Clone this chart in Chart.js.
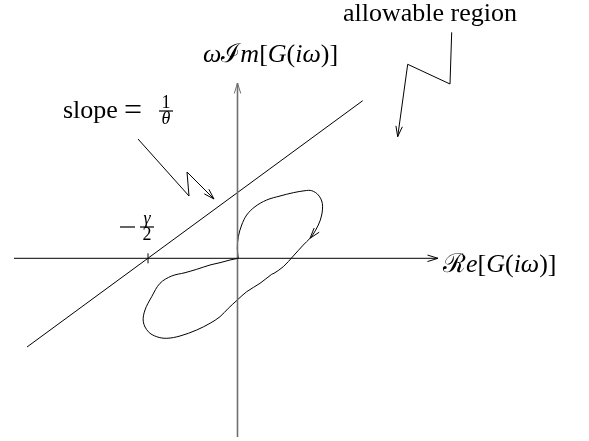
<!DOCTYPE html>
<html>
<head>
<meta charset="utf-8">
<script src="https://cdn.jsdelivr.net/npm/chart.js@4/dist/chart.umd.min.js"></script>
<style>
  html, body { margin: 0; padding: 0; background: #fff; }
  canvas { display: block; }
</style>
</head>
<body>
<canvas id="popov" width="589" height="441"></canvas>
<script>
// Popov plot: Re[G(iw)] vs w*Im[G(iw)], units are arbitrary (origin = axes crossing)
const loopRe = [0.08, -0.02, 0.08, 0.42, 0.92, 1.75, 2.92, 4.25, 5.58, 6.75, 7.42, 8.08, 8.48, 8.42, 8.08, 7.52, 7.25, 6.58, 5.58, 4.58, 3.65, 3.42, 2.25, 0.92, -0.02, -0.92, -1.75, -2.75, -4.08, -5.75, -7.08, -8.08, -8.92, -9.42, -9.25, -8.58, -7.75, -6.58, -5.25, -4.08, -2.75, -1.75, -0.75, 0.08];
const loopIm = [0, 1.0, 2.16, 3.33, 4.33, 5.16, 5.83, 6.23, 6.56, 6.76, 6.76, 6.33, 5.5, 4.33, 3.33, 2.33, 2.0, 1.33, 0.23, -0.84, -1.5, -1.6, -2.5, -3.34, -4.17, -5.0, -5.84, -6.5, -7.17, -7.77, -8.0, -7.84, -7.34, -6.34, -5.17, -3.84, -2.5, -1.77, -1.44, -1.1, -0.67, -0.44, -0.17, 0];
const loopArrowIndex = 16;

// Popov line through -gamma/2 with slope 1/theta
const halfGamma = 8.95;
const lineRe = [-21.05, 12.52];
const lineIm = [-8.87, 15.76];

// axes
const reAxisRe = [-22.35, 20.05];
const reAxisIm = [0, 0];
const imAxisRe = [0, 0];
const imAxisIm = [-17.87, 17.53];
const tickIm = [-0.5, 0.5];

// zigzag pointers
const slopePtrRe = [-9.95, -4.85, -5.05, -2.35];
const slopePtrIm = [11.93, 6.23, 8.63, 5.93];
const allowPtrRe = [21.42, 21.25, 17.02, 16.02];
const allowPtrIm = [22.6, 17.43, 19.4, 12.16];

// view window
const reMin = -23.75, reMax = 35.15;
const imMin = -18.27, imMax = 25.83;

function pts(xs, ys) {
  return xs.map((x, i) => ({ x: x, y: ys[i] }));
}

function lineSet(data, extra) {
  return Object.assign({
    data: data,
    showLine: true,
    borderColor: "#000",
    borderWidth: 1,
    pointRadius: 0,
    tension: 0,
    fill: false,
  }, extra || {});
}

const SERIF = "'Liberation Serif', 'DejaVu Serif', serif";

function drawRich(ctx, parts, x, y, size) {
  let cx = x;
  parts.forEach((p) => {
    ctx.font = (p[1] === "i" ? "italic " : "") + size + "px " + SERIF;
    ctx.fillText(p[0], cx, y);
    cx += ctx.measureText(p[0]).width;
  });
}

function drawFrac(ctx, num, den, cx, barY, size, italicNum, italicDen) {
  ctx.textAlign = "center";
  ctx.font = (italicNum ? "italic " : "") + size + "px " + SERIF;
  ctx.fillText(num, cx, barY - 3);
  ctx.font = (italicDen ? "italic " : "") + size + "px " + SERIF;
  ctx.fillText(den, cx, barY + size * 0.72);
  ctx.fillRect(cx - 7, barY - 0.6, 14, 1.2);
  ctx.textAlign = "left";
}

function arrowHead(ctx, x0, y0, x1, y1, len, spread) {
  const a = Math.atan2(y1 - y0, x1 - x0);
  ctx.beginPath();
  ctx.moveTo(x1 - len * Math.cos(a - spread), y1 - len * Math.sin(a - spread));
  ctx.lineTo(x1, y1);
  ctx.lineTo(x1 - len * Math.cos(a + spread), y1 - len * Math.sin(a + spread));
  ctx.stroke();
}

const decorPlugin = {
  id: "decor",
  afterDatasetsDraw(chart) {
    const ctx = chart.ctx;
    const sx = chart.scales.x, sy = chart.scales.y;
    const px = (v) => sx.getPixelForValue(v);
    const py = (v) => sy.getPixelForValue(v);
    ctx.save();
    ctx.strokeStyle = "#000";
    ctx.fillStyle = "#000";
    ctx.lineWidth = 1;

    // arrow heads at the end of flagged datasets
    chart.data.datasets.forEach((ds) => {
      if (!ds.arrowEnd) return;
      const n = ds.data.length;
      const a = ds.data[n - 2], b = ds.data[n - 1];
      ctx.strokeStyle = ds.borderColor;
      arrowHead(ctx, px(a.x), py(a.y), px(b.x), py(b.y), 11, 0.3);
    });
    ctx.strokeStyle = "#000";
    // direction arrow on the loop
    const a = { x: loopRe[loopArrowIndex - 1], y: loopIm[loopArrowIndex - 1] };
    const b = { x: loopRe[loopArrowIndex], y: loopIm[loopArrowIndex] };
    arrowHead(ctx, px(a.x), py(a.y), px(b.x), py(b.y), 11, 0.3);

    // text
    ctx.textBaseline = "alphabetic";
    ctx.textAlign = "left";
    ctx.font = "26px " + SERIF;
    ctx.fillText("allowable region", px(10.55), py(23.73));
    ctx.fillText("slope", px(-17.45), py(14.03));
    ctx.font = "32px " + SERIF;
    ctx.fillText("=", px(-11.35), py(13.83));
    drawFrac(ctx, "1", "θ", px(-7.15), py(14.73), 18, false, true);

    drawRich(ctx, [["ω", "i"], ["ℐ", "r"], ["m", "i"], ["[", "r"], ["G", "i"], ["(", "r"], ["iω", "i"], [")]", "r"]], px(-3.45), py(19.63), 26);
    drawRich(ctx, [["ℛ", "r"], ["e", "i"], ["[", "r"], ["G", "i"], ["(", "r"], ["iω", "i"], [")]", "r"]], px(20.55), py(-1.34), 26);

    // -gamma/2 label
    ctx.fillRect(px(-11.75), py(3.13) - 0.6, 15, 1.2);
    drawFrac(ctx, "γ", "2", px(-halfGamma - 0.1), py(3.13), 18, true, false);
    ctx.restore();
  },
};

new Chart(document.getElementById("popov"), {
  type: "scatter",
  data: {
    datasets: [
      lineSet(pts(reAxisRe, reAxisIm), { arrowEnd: true }),
      lineSet(pts(imAxisRe, imAxisIm), { borderColor: "#6f6f6f", borderWidth: 1.6, arrowEnd: true }),
      lineSet(pts([-halfGamma, -halfGamma], tickIm)),
      lineSet(pts(lineRe, lineIm)),
      lineSet(pts(loopRe, loopIm), { tension: 0.35 }),
      lineSet(pts(slopePtrRe, slopePtrIm), { arrowEnd: true }),
      lineSet(pts(allowPtrRe, allowPtrIm), { arrowEnd: true }),
    ],
  },
  options: {
    responsive: false,
    animation: false,
    devicePixelRatio: 1,
    layout: { padding: 0 },
    plugins: { legend: { display: false }, tooltip: { enabled: false } },
    scales: {
      x: { type: "linear", display: false, min: reMin, max: reMax },
      y: { type: "linear", display: false, min: imMin, max: imMax },
    },
  },
  plugins: [decorPlugin],
});
</script>
</body>
</html>
